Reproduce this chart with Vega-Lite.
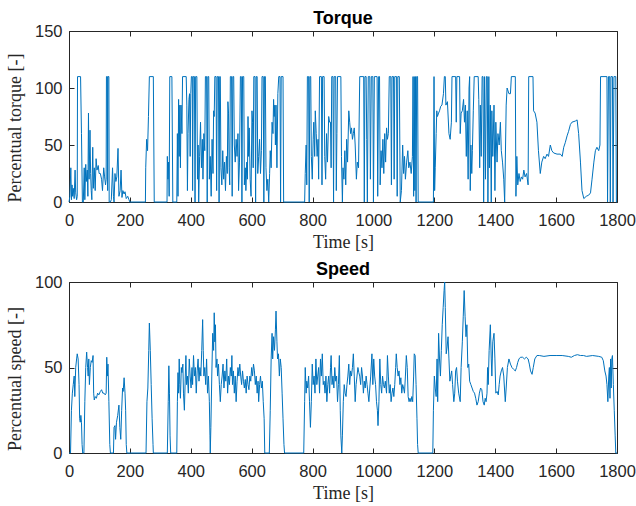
{
  "$schema": "https://vega.github.io/schema/vega-lite/v6.json",
  "padding": {"left": 5, "top": 9, "right": 5, "bottom": 5},
  "spacing": 8,
  "config": {
    "view": {"stroke": "#262626", "strokeWidth": 1},
    "font": "Liberation Sans",
    "axis": {"grid": false, "domain": false, "ticks": true, "tickSize": -5, "tickColor": "#262626", "tickWidth": 1, "labelColor": "#262626", "labelFont": "Liberation Sans", "labelFontSize": 16.5, "titleFont": "Liberation Serif", "titleFontSize": 18, "titleFontWeight": "normal", "titleColor": "#262626", "format": "d"},
    "axisX": {"labelPadding": 15.5, "titlePadding": 4.5, "labelFlush": false},
    "axisY": {"labelPadding": 12, "titlePadding": 10, "titleY": 96.5},
    "title": {"font": "Liberation Sans", "fontSize": 18, "fontWeight": "bold", "color": "#000000", "offset": -5, "anchor": "middle", "frame": "group"}
  },
  "datasets": {
    "torque": [
      {"t":0,"v":0},{"t":3,"v":5},{"t":6,"v":30},{"t":8,"v":2},{"t":10,"v":15},{"t":12,"v":5},{"t":14,"v":12},{"t":17,"v":3},{"t":20,"v":28},{"t":22,"v":8},{"t":25,"v":2},
      {"t":27,"v":5},{"t":28,"v":110},{"t":38,"v":110},{"t":41,"v":60},{"t":44,"v":0},{"t":47,"v":0},
      {"t":50,"v":30},{"t":52,"v":2},{"t":55,"v":33},{"t":57,"v":18},{"t":60,"v":28},{"t":62,"v":5},{"t":64,"v":78},{"t":66,"v":20},{"t":69,"v":63},{"t":71,"v":25},{"t":73,"v":10},{"t":75,"v":2},{"t":78,"v":48},{"t":80,"v":12},{"t":83,"v":30},{"t":86,"v":10},{"t":89,"v":38},{"t":92,"v":28},{"t":96,"v":32},{"t":99,"v":25},{"t":103,"v":25},{"t":107,"v":20},{"t":110,"v":10},{"t":114,"v":30},{"t":117,"v":22},{"t":120,"v":15},
      {"t":122,"v":20},{"t":123,"v":110},{"t":126,"v":110},{"t":127,"v":10},{"t":128,"v":110},{"t":131,"v":110},{"t":132,"v":0},{"t":136,"v":0},
      {"t":139,"v":2},{"t":143,"v":30},{"t":146,"v":5},{"t":148,"v":0},{"t":151,"v":25},{"t":154,"v":18},{"t":157,"v":22},{"t":161,"v":47},{"t":164,"v":5},{"t":168,"v":10},{"t":171,"v":28},{"t":174,"v":4},{"t":177,"v":10},{"t":181,"v":7},{"t":184,"v":9},{"t":188,"v":3},{"t":193,"v":5},{"t":197,"v":2},{"t":200,"v":0},
      {"t":251,"v":0},{"t":252,"v":30},{"t":255,"v":55},{"t":258,"v":45},{"t":261,"v":75},{"t":264,"v":110},{"t":277,"v":110},{"t":280,"v":0},
      {"t":322,"v":0},{"t":323,"v":40},{"t":325,"v":20},{"t":327,"v":35},{"t":329,"v":5},{"t":331,"v":110},{"t":338,"v":110},{"t":341,"v":0},{"t":354,"v":0},
      {"t":356,"v":60},{"t":358,"v":5},{"t":360,"v":90},{"t":362,"v":40},{"t":364,"v":85},{"t":366,"v":30},{"t":368,"v":85},{"t":371,"v":60},{"t":373,"v":110},{"t":385,"v":110},{"t":387,"v":85},{"t":389,"v":10},{"t":391,"v":60},{"t":394,"v":90},{"t":396,"v":95},{"t":398,"v":40},{"t":400,"v":95},{"t":402,"v":110},{"t":405,"v":110},{"t":406,"v":10},{"t":408,"v":110},{"t":412,"v":110},{"t":414,"v":0},{"t":416,"v":110},{"t":420,"v":110},{"t":422,"v":20},{"t":424,"v":50},{"t":426,"v":0},{"t":429,"v":40},{"t":432,"v":70},
      {"t":435,"v":30},{"t":438,"v":55},{"t":440,"v":20},{"t":443,"v":60},{"t":446,"v":45},{"t":448,"v":110},{"t":452,"v":110},{"t":454,"v":0},{"t":456,"v":110},{"t":459,"v":110},{"t":461,"v":20},{"t":464,"v":40},{"t":467,"v":5},{"t":470,"v":55},{"t":473,"v":25},{"t":475,"v":80},{"t":477,"v":75},{"t":479,"v":110},{"t":483,"v":110},{"t":485,"v":10},{"t":487,"v":110},{"t":491,"v":110},{"t":493,"v":0},{"t":495,"v":110},{"t":497,"v":110},{"t":499,"v":30},{"t":502,"v":15},{"t":505,"v":45},{"t":508,"v":20},{"t":511,"v":35},{"t":514,"v":10},{"t":517,"v":40},{"t":520,"v":25},{"t":522,"v":88},{"t":524,"v":78},{"t":526,"v":30},{"t":528,"v":15},{"t":530,"v":110},{"t":534,"v":110},{"t":536,"v":5},{"t":538,"v":110},{"t":541,"v":110},{"t":543,"v":50},{"t":546,"v":35},{"t":549,"v":55},{"t":552,"v":40},{"t":555,"v":60},{"t":557,"v":10},{"t":560,"v":35},{"t":563,"v":110},{"t":566,"v":110},{"t":568,"v":0},{"t":570,"v":110},{"t":574,"v":110},{"t":576,"v":15},{"t":579,"v":30},{"t":581,"v":10},{"t":584,"v":35},{"t":586,"v":20},{"t":588,"v":75},{"t":590,"v":40},{"t":592,"v":65},{"t":595,"v":20},{"t":598,"v":5},{"t":601,"v":80},{"t":603,"v":70},{"t":605,"v":30},{"t":607,"v":110},{"t":611,"v":110},{"t":613,"v":0},{"t":615,"v":110},{"t":618,"v":110},{"t":620,"v":25},{"t":623,"v":40},{"t":626,"v":55},{"t":629,"v":25},{"t":632,"v":45},{"t":634,"v":110},{"t":638,"v":110},{"t":640,"v":0},{"t":642,"v":110},{"t":645,"v":110},{"t":647,"v":30},{"t":650,"v":10},{"t":653,"v":20},{"t":656,"v":0},{"t":659,"v":25},{"t":661,"v":45},{"t":664,"v":30},{"t":667,"v":70},{"t":670,"v":60},{"t":672,"v":90},{"t":674,"v":75},{"t":676,"v":85},{"t":678,"v":50},{"t":680,"v":85},{"t":683,"v":30},{"t":686,"v":95},{"t":689,"v":110},{"t":693,"v":110},{"t":695,"v":0},{"t":697,"v":110},{"t":703,"v":110},{"t":705,"v":0},{"t":774,"v":0},
      {"t":776,"v":25},{"t":779,"v":50},{"t":781,"v":15},{"t":783,"v":110},{"t":787,"v":110},{"t":789,"v":0},{"t":791,"v":110},{"t":794,"v":110},{"t":796,"v":40},{"t":799,"v":20},{"t":802,"v":55},{"t":804,"v":70},{"t":807,"v":40},{"t":809,"v":80},{"t":812,"v":60},{"t":815,"v":40},{"t":818,"v":55},{"t":820,"v":20},{"t":823,"v":110},{"t":829,"v":110},{"t":831,"v":15},{"t":833,"v":110},{"t":838,"v":110},{"t":840,"v":40},{"t":843,"v":20},{"t":846,"v":60},{"t":849,"v":35},{"t":853,"v":75},{"t":856,"v":70},{"t":859,"v":70},{"t":861,"v":30},{"t":863,"v":110},{"t":867,"v":110},{"t":869,"v":0},{"t":871,"v":110},{"t":876,"v":110},{"t":878,"v":10},{"t":880,"v":60},{"t":882,"v":110},{"t":893,"v":110},{"t":895,"v":40},{"t":898,"v":0},{"t":900,"v":30},{"t":903,"v":20},{"t":906,"v":45},{"t":909,"v":15},{"t":912,"v":55},{"t":915,"v":35},{"t":919,"v":80},{"t":922,"v":70},{"t":925,"v":60},{"t":928,"v":65},{"t":931,"v":55},{"t":934,"v":60},{"t":937,"v":65},{"t":940,"v":50},{"t":944,"v":20},{"t":947,"v":35},{"t":951,"v":30},{"t":955,"v":110},{"t":968,"v":110},{"t":970,"v":0},{"t":972,"v":110},{"t":976,"v":110},{"t":978,"v":55},{"t":980,"v":0},{"t":983,"v":110},{"t":988,"v":110},{"t":990,"v":20},{"t":993,"v":110},{"t":998,"v":110},{"t":1000,"v":0},{"t":1003,"v":110},{"t":1012,"v":110},{"t":1014,"v":5},{"t":1017,"v":110},{"t":1020,"v":110},{"t":1022,"v":15},{"t":1025,"v":45},{"t":1028,"v":30},{"t":1031,"v":55},{"t":1034,"v":25},{"t":1037,"v":60},{"t":1040,"v":35},{"t":1043,"v":65},{"t":1046,"v":55},{"t":1049,"v":60},{"t":1052,"v":110},{"t":1057,"v":110},{"t":1059,"v":15},{"t":1061,"v":110},{"t":1066,"v":110},{"t":1068,"v":20},{"t":1070,"v":110},{"t":1076,"v":110},{"t":1078,"v":5},{"t":1080,"v":110},{"t":1085,"v":110},{"t":1088,"v":0},{"t":1092,"v":10},{"t":1096,"v":50},{"t":1099,"v":25},{"t":1102,"v":40},{"t":1105,"v":20},{"t":1109,"v":35},{"t":1113,"v":45},{"t":1116,"v":30},{"t":1120,"v":35},{"t":1124,"v":25},{"t":1128,"v":40},{"t":1130,"v":110},{"t":1132,"v":5},{"t":1134,"v":110},{"t":1136,"v":10},{"t":1138,"v":110},{"t":1140,"v":0},{"t":1142,"v":110},{"t":1145,"v":110},{"t":1147,"v":0},{"t":1197,"v":0},
      {"t":1199,"v":110},{"t":1201,"v":10},{"t":1203,"v":30},{"t":1206,"v":60},{"t":1208,"v":80},{"t":1210,"v":75},{"t":1214,"v":78},{"t":1217,"v":80},{"t":1221,"v":84},{"t":1225,"v":85},{"t":1230,"v":95},{"t":1233,"v":110},{"t":1236,"v":110},{"t":1238,"v":85},{"t":1243,"v":88},{"t":1248,"v":60},{"t":1252,"v":55},{"t":1256,"v":70},{"t":1258,"v":110},{"t":1270,"v":110},{"t":1272,"v":70},{"t":1274,"v":110},{"t":1283,"v":110},{"t":1285,"v":60},{"t":1288,"v":78},{"t":1292,"v":80},{"t":1296,"v":90},{"t":1299,"v":70},{"t":1302,"v":85},{"t":1305,"v":40},{"t":1308,"v":80},{"t":1311,"v":20},{"t":1314,"v":100},{"t":1316,"v":110},{"t":1318,"v":10},{"t":1320,"v":50},{"t":1323,"v":25},{"t":1325,"v":45},{"t":1328,"v":80},{"t":1331,"v":110},{"t":1344,"v":110},{"t":1346,"v":90},{"t":1349,"v":30},{"t":1351,"v":85},{"t":1354,"v":40},{"t":1357,"v":110},{"t":1360,"v":110},{"t":1362,"v":0},{"t":1365,"v":110},{"t":1368,"v":20},{"t":1371,"v":110},{"t":1374,"v":110},{"t":1376,"v":0},{"t":1379,"v":110},{"t":1381,"v":30},{"t":1384,"v":85},{"t":1387,"v":0},{"t":1389,"v":80},{"t":1392,"v":40},{"t":1396,"v":85},{"t":1399,"v":10},{"t":1402,"v":70},{"t":1406,"v":35},{"t":1409,"v":60},{"t":1413,"v":50},{"t":1417,"v":70},{"t":1420,"v":45},{"t":1424,"v":35},{"t":1428,"v":20},{"t":1431,"v":0},{"t":1436,"v":85},{"t":1439,"v":100},{"t":1445,"v":95},{"t":1450,"v":95},{"t":1453,"v":110},{"t":1466,"v":110},{"t":1468,"v":5},{"t":1471,"v":40},{"t":1474,"v":15},{"t":1478,"v":25},{"t":1482,"v":18},{"t":1486,"v":22},{"t":1490,"v":20},{"t":1494,"v":28},{"t":1498,"v":22},{"t":1503,"v":25},{"t":1508,"v":15},{"t":1510,"v":110},{"t":1524,"v":110},{"t":1526,"v":80},{"t":1531,"v":78},{"t":1537,"v":70},{"t":1542,"v":45},{"t":1548,"v":25},{"t":1553,"v":35},{"t":1559,"v":40},{"t":1564,"v":38},{"t":1570,"v":42},{"t":1575,"v":40},{"t":1581,"v":50},{"t":1586,"v":45},{"t":1592,"v":43},{"t":1603,"v":42},{"t":1614,"v":42},{"t":1620,"v":40},{"t":1625,"v":48},{"t":1630,"v":52},{"t":1636,"v":58},{"t":1641,"v":62},{"t":1647,"v":68},{"t":1652,"v":70},{"t":1663,"v":71},{"t":1669,"v":72},{"t":1674,"v":60},{"t":1680,"v":35},{"t":1685,"v":10},{"t":1691,"v":3},{"t":1699,"v":5},{"t":1707,"v":6},{"t":1713,"v":8},{"t":1718,"v":20},{"t":1724,"v":35},{"t":1729,"v":45},{"t":1734,"v":48},{"t":1740,"v":45},{"t":1744,"v":50},{"t":1746,"v":110},{"t":1767,"v":110},{"t":1769,"v":0},{"t":1772,"v":110},{"t":1776,"v":110},{"t":1778,"v":0},{"t":1780,"v":110},{"t":1785,"v":110},{"t":1787,"v":0},{"t":1790,"v":110},{"t":1796,"v":110},{"t":1798,"v":0},{"t":1800,"v":0}
    ],
    "speed": [
      {"t":0,"v":0},{"t":5,"v":0},{"t":8,"v":25},{"t":11,"v":35},{"t":14,"v":40},{"t":17,"v":45},{"t":19,"v":33},{"t":22,"v":50},{"t":25,"v":55},{"t":27,"v":58},{"t":30,"v":55},{"t":33,"v":40},{"t":35,"v":20},{"t":37,"v":18},{"t":39,"v":22},{"t":41,"v":18},{"t":43,"v":5},{"t":45,"v":0},{"t":49,"v":0},{"t":52,"v":30},{"t":55,"v":50},{"t":58,"v":59},{"t":61,"v":50},{"t":63,"v":45},{"t":65,"v":55},{"t":67,"v":40},{"t":70,"v":50},{"t":73,"v":54},{"t":76,"v":53},{"t":79,"v":57},{"t":81,"v":35},{"t":83,"v":31},{"t":86,"v":33},{"t":90,"v":32},{"t":94,"v":35},{"t":98,"v":34},{"t":103,"v":36},{"t":107,"v":37},{"t":111,"v":35},{"t":115,"v":35},{"t":119,"v":34},{"t":122,"v":35},{"t":124,"v":56},{"t":126,"v":45},{"t":128,"v":52},{"t":131,"v":30},{"t":134,"v":5},{"t":136,"v":0},{"t":146,"v":0},{"t":148,"v":15},{"t":151,"v":16},{"t":153,"v":8},{"t":156,"v":18},{"t":160,"v":22},{"t":164,"v":28},{"t":167,"v":15},{"t":170,"v":8},{"t":173,"v":25},{"t":176,"v":38},{"t":178,"v":36},{"t":181,"v":44},{"t":184,"v":35},{"t":186,"v":25},{"t":188,"v":5},{"t":190,"v":0},{"t":253,"v":0},{"t":256,"v":30},{"t":259,"v":38},{"t":262,"v":60},{"t":264,"v":76},{"t":267,"v":60},{"t":270,"v":40},{"t":273,"v":20},{"t":276,"v":5},{"t":277,"v":0},{"t":323,"v":0},{"t":326,"v":30},{"t":328,"v":51},{"t":330,"v":35},{"t":332,"v":10},{"t":334,"v":0},{"t":354,"v":0},
      {"t":356,"v":30},{"t":358,"v":47},{"t":360,"v":35},{"t":362,"v":55},{"t":364,"v":40},{"t":366,"v":32},{"t":369,"v":50},{"t":371,"v":47},{"t":374,"v":52},{"t":376,"v":35},{"t":379,"v":25},{"t":382,"v":45},{"t":384,"v":57},{"t":386,"v":40},{"t":389,"v":45},{"t":392,"v":35},{"t":395,"v":55},{"t":398,"v":45},{"t":401,"v":38},{"t":404,"v":50},{"t":406,"v":40},{"t":409,"v":57},{"t":412,"v":45},{"t":415,"v":50},{"t":418,"v":35},{"t":421,"v":48},{"t":424,"v":55},{"t":427,"v":42},{"t":430,"v":50},{"t":433,"v":45},{"t":436,"v":60},{"t":439,"v":78},{"t":441,"v":60},{"t":443,"v":45},{"t":446,"v":50},{"t":449,"v":40},{"t":452,"v":55},{"t":455,"v":35},{"t":458,"v":45},{"t":461,"v":30},{"t":463,"v":10},{"t":464,"v":0},{"t":466,"v":15},{"t":469,"v":45},{"t":472,"v":70},{"t":475,"v":60},{"t":477,"v":82},{"t":479,"v":65},{"t":481,"v":75},{"t":483,"v":50},{"t":486,"v":55},{"t":488,"v":45},{"t":491,"v":52},{"t":494,"v":40},{"t":497,"v":30},{"t":500,"v":40},{"t":503,"v":45},{"t":506,"v":52},{"t":509,"v":38},{"t":512,"v":48},{"t":515,"v":42},{"t":518,"v":55},{"t":521,"v":35},{"t":524,"v":45},{"t":527,"v":40},{"t":530,"v":50},{"t":533,"v":45},{"t":535,"v":57},{"t":537,"v":40},{"t":540,"v":48},{"t":543,"v":35},{"t":546,"v":45},{"t":549,"v":30},{"t":552,"v":42},{"t":555,"v":50},{"t":558,"v":45},{"t":561,"v":52},{"t":564,"v":45},{"t":567,"v":40},{"t":570,"v":48},{"t":573,"v":42},{"t":576,"v":38},{"t":579,"v":43},{"t":582,"v":35},{"t":585,"v":45},{"t":588,"v":40},{"t":591,"v":37},{"t":594,"v":45},{"t":597,"v":42},{"t":600,"v":50},{"t":603,"v":45},{"t":606,"v":52},{"t":609,"v":48},{"t":612,"v":40},{"t":615,"v":45},{"t":618,"v":35},{"t":621,"v":42},{"t":623,"v":30},{"t":626,"v":40},{"t":629,"v":45},{"t":632,"v":38},{"t":635,"v":42},{"t":638,"v":30},{"t":641,"v":20},{"t":643,"v":0},{"t":658,"v":0},{"t":661,"v":25},{"t":664,"v":55},{"t":667,"v":70},{"t":669,"v":55},{"t":672,"v":68},{"t":675,"v":60},{"t":678,"v":72},{"t":680,"v":83},{"t":683,"v":65},{"t":685,"v":55},{"t":688,"v":58},{"t":691,"v":45},{"t":694,"v":55},{"t":697,"v":50},{"t":700,"v":35},{"t":703,"v":20},{"t":706,"v":5},{"t":708,"v":0},{"t":771,"v":0},
      {"t":774,"v":30},{"t":776,"v":50},{"t":779,"v":35},{"t":781,"v":42},{"t":784,"v":38},{"t":787,"v":45},{"t":790,"v":30},{"t":793,"v":15},{"t":796,"v":30},{"t":799,"v":52},{"t":802,"v":40},{"t":805,"v":45},{"t":808,"v":35},{"t":811,"v":55},{"t":814,"v":40},{"t":817,"v":45},{"t":820,"v":50},{"t":823,"v":35},{"t":826,"v":55},{"t":829,"v":45},{"t":832,"v":58},{"t":835,"v":40},{"t":838,"v":42},{"t":841,"v":35},{"t":844,"v":45},{"t":847,"v":30},{"t":850,"v":40},{"t":853,"v":45},{"t":856,"v":35},{"t":859,"v":50},{"t":861,"v":57},{"t":864,"v":40},{"t":867,"v":45},{"t":870,"v":38},{"t":873,"v":50},{"t":876,"v":42},{"t":879,"v":45},{"t":882,"v":30},{"t":885,"v":40},{"t":888,"v":57},{"t":891,"v":25},{"t":893,"v":10},{"t":896,"v":0},{"t":898,"v":10},{"t":901,"v":30},{"t":904,"v":40},{"t":907,"v":35},{"t":910,"v":33},{"t":913,"v":40},{"t":916,"v":45},{"t":919,"v":52},{"t":922,"v":40},{"t":925,"v":48},{"t":928,"v":45},{"t":931,"v":50},{"t":934,"v":58},{"t":937,"v":45},{"t":940,"v":30},{"t":943,"v":40},{"t":946,"v":45},{"t":949,"v":50},{"t":952,"v":47},{"t":955,"v":45},{"t":958,"v":40},{"t":961,"v":50},{"t":964,"v":45},{"t":967,"v":35},{"t":970,"v":42},{"t":973,"v":38},{"t":976,"v":45},{"t":979,"v":40},{"t":982,"v":35},{"t":985,"v":30},{"t":988,"v":38},{"t":991,"v":45},{"t":995,"v":58},{"t":998,"v":40},{"t":1001,"v":55},{"t":1004,"v":45},{"t":1007,"v":40},{"t":1010,"v":30},{"t":1013,"v":25},{"t":1015,"v":16},{"t":1018,"v":30},{"t":1021,"v":55},{"t":1024,"v":40},{"t":1027,"v":35},{"t":1030,"v":45},{"t":1033,"v":40},{"t":1036,"v":38},{"t":1039,"v":42},{"t":1043,"v":35},{"t":1046,"v":57},{"t":1049,"v":45},{"t":1052,"v":35},{"t":1055,"v":40},{"t":1058,"v":30},{"t":1061,"v":35},{"t":1064,"v":38},{"t":1067,"v":33},{"t":1070,"v":40},{"t":1073,"v":50},{"t":1075,"v":58},{"t":1078,"v":50},{"t":1081,"v":45},{"t":1084,"v":48},{"t":1087,"v":40},{"t":1090,"v":44},{"t":1093,"v":35},{"t":1096,"v":40},{"t":1099,"v":38},{"t":1102,"v":35},{"t":1105,"v":45},{"t":1108,"v":57},{"t":1111,"v":50},{"t":1114,"v":33},{"t":1117,"v":30},{"t":1120,"v":32},{"t":1123,"v":30},{"t":1126,"v":33},{"t":1129,"v":30},{"t":1132,"v":45},{"t":1134,"v":58},{"t":1137,"v":57},{"t":1140,"v":40},{"t":1143,"v":20},{"t":1145,"v":5},{"t":1147,"v":0},{"t":1195,"v":0},
      {"t":1197,"v":25},{"t":1200,"v":45},{"t":1203,"v":38},{"t":1206,"v":33},{"t":1209,"v":55},{"t":1211,"v":30},{"t":1214,"v":70},{"t":1217,"v":55},{"t":1220,"v":45},{"t":1223,"v":60},{"t":1226,"v":75},{"t":1229,"v":85},{"t":1232,"v":95},{"t":1234,"v":100},{"t":1236,"v":85},{"t":1239,"v":58},{"t":1242,"v":62},{"t":1245,"v":68},{"t":1248,"v":55},{"t":1251,"v":42},{"t":1254,"v":45},{"t":1257,"v":48},{"t":1260,"v":40},{"t":1264,"v":30},{"t":1267,"v":35},{"t":1270,"v":48},{"t":1273,"v":50},{"t":1276,"v":42},{"t":1280,"v":35},{"t":1285,"v":30},{"t":1288,"v":50},{"t":1292,"v":65},{"t":1295,"v":80},{"t":1298,"v":95},{"t":1301,"v":80},{"t":1304,"v":68},{"t":1307,"v":75},{"t":1310,"v":50},{"t":1313,"v":52},{"t":1316,"v":42},{"t":1320,"v":40},{"t":1324,"v":38},{"t":1328,"v":36},{"t":1332,"v":35},{"t":1336,"v":32},{"t":1340,"v":28},{"t":1344,"v":30},{"t":1348,"v":35},{"t":1352,"v":38},{"t":1356,"v":37},{"t":1360,"v":30},{"t":1364,"v":28},{"t":1367,"v":32},{"t":1370,"v":30},{"t":1373,"v":35},{"t":1375,"v":50},{"t":1377,"v":40},{"t":1380,"v":60},{"t":1384,"v":75},{"t":1387,"v":55},{"t":1389,"v":45},{"t":1392,"v":65},{"t":1396,"v":70},{"t":1399,"v":55},{"t":1402,"v":35},{"t":1406,"v":36},{"t":1410,"v":34},{"t":1413,"v":40},{"t":1416,"v":45},{"t":1420,"v":48},{"t":1424,"v":50},{"t":1428,"v":45},{"t":1433,"v":30},{"t":1436,"v":38},{"t":1440,"v":50},{"t":1445,"v":55},{"t":1450,"v":52},{"t":1455,"v":50},{"t":1460,"v":49},{"t":1466,"v":48},{"t":1470,"v":50},{"t":1474,"v":53},{"t":1478,"v":55},{"t":1483,"v":56},{"t":1490,"v":56},{"t":1496,"v":55},{"t":1502,"v":56},{"t":1508,"v":55},{"t":1512,"v":52},{"t":1516,"v":48},{"t":1521,"v":46},{"t":1525,"v":50},{"t":1530,"v":55},{"t":1537,"v":57},{"t":1545,"v":57},{"t":1560,"v":56.5},{"t":1580,"v":57},{"t":1600,"v":57},{"t":1620,"v":57},{"t":1640,"v":56.5},{"t":1650,"v":56},{"t":1660,"v":57},{"t":1670,"v":57.5},{"t":1680,"v":57},{"t":1690,"v":57},{"t":1700,"v":56.5},{"t":1720,"v":57},{"t":1740,"v":56.5},{"t":1750,"v":56},{"t":1755,"v":54},{"t":1760,"v":48},{"t":1764,"v":45},{"t":1767,"v":40},{"t":1770,"v":30},{"t":1773,"v":45},{"t":1775,"v":50},{"t":1777,"v":32},{"t":1779,"v":55},{"t":1781,"v":38},{"t":1783,"v":55},{"t":1785,"v":57},{"t":1788,"v":40},{"t":1791,"v":25},{"t":1794,"v":10},{"t":1796,"v":0},{"t":1800,"v":0}
    ]
  },
  "vconcat": [
    {
      "width": 548, "height": 171,
      "title": "Torque",
      "data": {"name": "torque"},
      "layer": [
        {
          "mark": {"type": "line", "color": "#0072BD", "strokeWidth": 1},
          "encoding": {
            "x": {"field": "t", "type": "quantitative", "scale": {"domain": [0, 1800], "nice": false}, "axis": {"title": "Time [s]", "values": [0,200,400,600,800,1000,1200,1400,1600,1800]}},
            "y": {"field": "v", "type": "quantitative", "scale": {"domain": [0, 150], "nice": false}, "axis": {"title": "Percentual torque [-]", "values": [0,50,100,150]}}
          }
        },
        {
          "mark": {"type": "line", "strokeOpacity": 0},
          "encoding": {
            "x": {"field": "t", "type": "quantitative", "axis": {"orient": "top", "labels": false, "title": null, "values": [0,200,400,600,800,1000,1200,1400,1600,1800]}},
            "y": {"field": "v", "type": "quantitative", "axis": {"orient": "right", "labels": false, "title": null, "values": [0,50,100,150]}}
          }
        }
      ],
      "resolve": {"axis": {"x": "independent", "y": "independent"}}
    },
    {
      "width": 548, "height": 171,
      "title": "Speed",
      "data": {"name": "speed"},
      "layer": [
        {
          "mark": {"type": "line", "color": "#0072BD", "strokeWidth": 1},
          "encoding": {
            "x": {"field": "t", "type": "quantitative", "scale": {"domain": [0, 1800], "nice": false}, "axis": {"title": "Time [s]", "values": [0,200,400,600,800,1000,1200,1400,1600,1800]}},
            "y": {"field": "v", "type": "quantitative", "scale": {"domain": [0, 100], "nice": false}, "axis": {"title": "Percentual speed [-]", "values": [0,50,100]}}
          }
        },
        {
          "mark": {"type": "line", "strokeOpacity": 0},
          "encoding": {
            "x": {"field": "t", "type": "quantitative", "axis": {"orient": "top", "labels": false, "title": null, "values": [0,200,400,600,800,1000,1200,1400,1600,1800]}},
            "y": {"field": "v", "type": "quantitative", "axis": {"orient": "right", "labels": false, "title": null, "values": [0,50,100]}}
          }
        }
      ],
      "resolve": {"axis": {"x": "independent", "y": "independent"}}
    }
  ]
}
